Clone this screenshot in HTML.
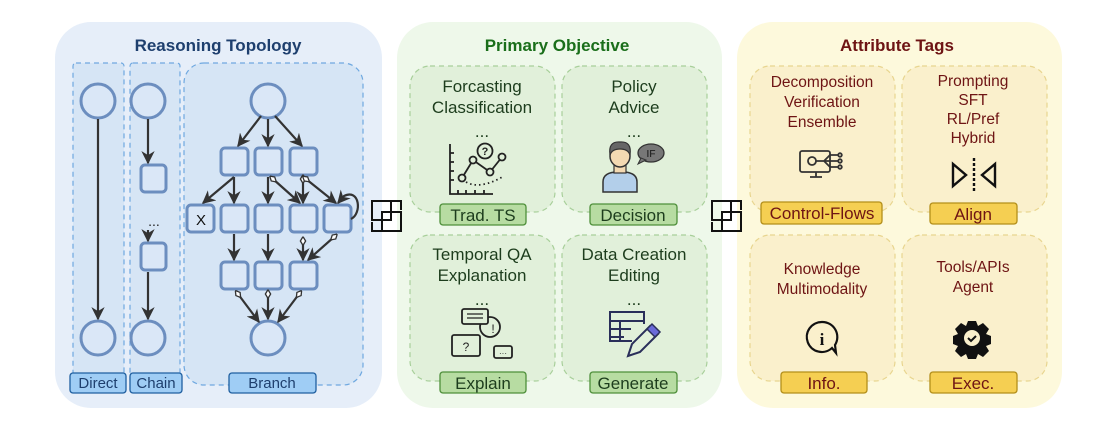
<!DOCTYPE html>
<html><head><meta charset="utf-8"><style>
html,body{margin:0;padding:0;background:#fff;}
svg{display:block;font-family:"Liberation Sans",sans-serif;}
</style></head><body>
<svg width="1117" height="431" viewBox="0 0 1117 431" xmlns="http://www.w3.org/2000/svg">
<defs>
<marker id="ah" viewBox="0 0 10 10" refX="9" refY="5" markerWidth="6" markerHeight="6" orient="auto"><path d="M0,0 L10,5 L0,10 L3,5 z" fill="#333"/></marker>
<marker id="dm" viewBox="0 0 10 10" refX="5" refY="5" markerWidth="4" markerHeight="4" orient="auto"><path d="M0,5 L5,2 L10,5 L5,8 z" fill="#fff" stroke="#333" stroke-width="1.5"/></marker>
</defs>
<rect x="55" y="22" width="327" height="386" rx="36" fill="#e6eef9"/>
<rect x="397" y="22" width="325" height="386" rx="36" fill="#eef8ea"/>
<rect x="737" y="22" width="325" height="386" rx="36" fill="#fdf9dc"/>
<text x="218" y="51" text-anchor="middle" font-size="17" font-weight="bold" fill="#1e3f6e">Reasoning Topology</text>
<text x="557" y="51" text-anchor="middle" font-size="17" font-weight="bold" fill="#1a6e1a">Primary Objective</text>
<text x="897" y="51" text-anchor="middle" font-size="17" font-weight="bold" fill="#6e1414">Attribute Tags</text>

<g fill="#d6e5f5" stroke="#6fa8e0" stroke-width="1.2" stroke-dasharray="5,4">
<rect x="73" y="63" width="51" height="320" rx="3"/>
<rect x="130" y="63" width="50" height="320" rx="3"/>
<rect x="184" y="63" width="179" height="322" rx="20"/>
</g>
<g fill="#dae7f7" stroke="#6c8ebf" stroke-width="3">
<circle cx="98" cy="101" r="17"/><circle cx="98" cy="338" r="17"/>
<circle cx="148" cy="101" r="17"/><circle cx="148" cy="338" r="17"/>
<rect x="141" y="165" width="25" height="27" rx="4"/>
<rect x="141" y="243" width="25" height="27" rx="4"/>
<circle cx="268" cy="101" r="17"/><circle cx="268" cy="338" r="17"/>
<rect x="221" y="148" width="27" height="27" rx="4"/>
<rect x="255" y="148" width="27" height="27" rx="4"/>
<rect x="290" y="148" width="27" height="27" rx="4"/>
<rect x="187" y="205" width="27" height="27" rx="4"/>
<rect x="221" y="205" width="27" height="27" rx="4"/>
<rect x="255" y="205" width="27" height="27" rx="4"/>
<rect x="290" y="205" width="27" height="27" rx="4"/>
<rect x="324" y="205" width="27" height="27" rx="4"/>
<rect x="221" y="262" width="27" height="27" rx="4"/>
<rect x="255" y="262" width="27" height="27" rx="4"/>
<rect x="290" y="262" width="27" height="27" rx="4"/>
</g>
<text x="201" y="225" text-anchor="middle" font-size="15" fill="#111">X</text>
<text x="154" y="226" text-anchor="middle" font-size="14" fill="#222">...</text>
<g stroke="#333" stroke-width="2.2" fill="none" marker-end="url(#ah)">
<line x1="98" y1="119" x2="98" y2="319"/>
<line x1="148" y1="119" x2="148" y2="163"/>
<line x1="148" y1="230" x2="148" y2="241"/>
<line x1="148" y1="272" x2="148" y2="319"/>
<line x1="261" y1="116" x2="238" y2="146"/>
<line x1="268" y1="119" x2="268" y2="146"/>
<line x1="275" y1="116" x2="302" y2="146"/>
<line x1="234" y1="177" x2="203" y2="203"/>
<line x1="234" y1="177" x2="234" y2="203"/>
<line x1="268" y1="177" x2="268" y2="203"/>
<line x1="234" y1="234" x2="234" y2="260"/>
<line x1="268" y1="234" x2="268" y2="260"/>
<path d="M351,219 C362,214 360,188 344,196 L338,203"/>
</g>
<g stroke="#333" stroke-width="2.2" fill="none" marker-end="url(#ah)" marker-start="url(#dm)">
<line x1="273" y1="179" x2="300" y2="203"/>
<line x1="303" y1="179" x2="303" y2="203"/>
<line x1="306" y1="179" x2="336" y2="203"/>
<line x1="303" y1="241" x2="303" y2="260"/>
<line x1="334" y1="237" x2="308" y2="260"/>
<line x1="238" y1="294" x2="259" y2="322"/>
<line x1="268" y1="294" x2="268" y2="319"/>
<line x1="299" y1="294" x2="278" y2="322"/>
</g>
<g fill="#9fcdf5" stroke="#1f5fa0" stroke-width="1.3">
<rect x="70" y="373" width="56" height="20" rx="3"/>
<rect x="130" y="373" width="52" height="20" rx="3"/>
<rect x="229" y="373" width="87" height="20" rx="3"/>
</g>
<g font-size="15" fill="#1e3f6e" text-anchor="middle">
<text x="98" y="388">Direct</text><text x="156" y="388">Chain</text><text x="272" y="388">Branch</text>
</g>

<g stroke="#111" stroke-width="2" fill="none">
<rect x="372" y="201" width="19" height="19"/><rect x="382" y="212" width="19" height="19"/>
<path d="M392,201 h9 v9 M372,222 v9 h9"/>
<rect x="712" y="201" width="19" height="19"/><rect x="722" y="212" width="19" height="19"/>
<path d="M732,201 h9 v9 M712,222 v9 h9"/>
</g>

<g fill="#e1f0da" stroke="#a8cf9a" stroke-width="1.2" stroke-dasharray="5,4">
<rect x="410" y="66" width="145" height="146" rx="20"/>
<rect x="562" y="66" width="145" height="146" rx="20"/>
<rect x="410" y="235" width="145" height="146" rx="20"/>
<rect x="562" y="235" width="145" height="146" rx="20"/>
</g>
<g font-size="17" fill="#1d3d1d" text-anchor="middle">
<text x="482" y="92">Forcasting</text><text x="482" y="113">Classification</text><text x="482" y="137">...</text>
<text x="634" y="92">Policy</text><text x="634" y="113">Advice</text><text x="634" y="137">...</text>
<text x="482" y="260">Temporal QA</text><text x="482" y="281">Explanation</text><text x="482" y="305">...</text>
<text x="634" y="260">Data Creation</text><text x="634" y="281">Editing</text><text x="634" y="305">...</text>
</g>
<g fill="#b7dca2" stroke="#4e8f3a" stroke-width="1.3">
<rect x="440" y="204" width="86" height="21" rx="3"/>
<rect x="590" y="204" width="87" height="21" rx="3"/>
<rect x="440" y="372" width="86" height="21" rx="3"/>
<rect x="590" y="372" width="87" height="21" rx="3"/>
</g>
<g font-size="17" fill="#1d3d1d" text-anchor="middle">
<text x="483" y="221">Trad. TS</text><text x="633" y="221">Decision</text>
<text x="483" y="389">Explain</text><text x="633" y="389">Generate</text>
</g>
<g stroke="#222" stroke-width="1.8" fill="none">
<path d="M450,144 v50 h43"/>
<path d="M450,153 h4 M450,162 h4 M450,171 h4 M450,180 h4 M458,194 v-4 M466,194 v-4 M475,194 v-4 M484,194 v-4"/>
<polyline points="462,178 473,160 490,172 502,157"/>
<circle cx="462" cy="178" r="3.5" fill="#e1f0da"/><circle cx="473" cy="160" r="3.5" fill="#e1f0da"/><circle cx="490" cy="172" r="3.5" fill="#e1f0da"/><circle cx="502" cy="157" r="3.5" fill="#e1f0da"/>
<path d="M466,182 Q480,190 504,176" stroke-dasharray="1.5,3"/>
<circle cx="485" cy="151" r="7.5"/>
</g>
<text x="485" y="155" text-anchor="middle" font-size="11" font-weight="bold" fill="#222">?</text>
<path d="M603,192 v-10 q0,-10 15,-10 h4 q15,0 15,10 v10 z" fill="#b3cfea" stroke="#333" stroke-width="1.5"/>
<rect x="614" y="163" width="12" height="10" fill="#f3d9b2" stroke="#333" stroke-width="1.2"/>
<ellipse cx="620" cy="156" rx="10" ry="11" fill="#f3d9b2" stroke="#333" stroke-width="1.5"/>
<path d="M610,155 q-2,-14 10,-13 q12,-1 10,13 q-2,-6 -10,-6 q-8,0 -10,6z" fill="#666" stroke="#333" stroke-width="1.2"/>
<ellipse cx="651" cy="153" rx="13" ry="9" fill="#777" stroke="#333" stroke-width="1.3"/>
<path d="M641,158 l-3,6 l8,-4z" fill="#777" stroke="#333" stroke-width="1"/>
<text x="651" y="157" text-anchor="middle" font-size="10" fill="#111">IF</text>
<g stroke="#222" stroke-width="1.8" fill="#e1f0da">
<circle cx="490" cy="327" r="10"/>
<rect x="462" y="309" width="26" height="15" rx="2"/>
<rect x="452" y="335" width="28" height="21" rx="2"/>
<rect x="494" y="346" width="18" height="12" rx="2"/>
</g>
<g font-size="12" fill="#222" text-anchor="middle"><text x="466" y="351">?</text><text x="493" y="333">!</text><text x="503" y="356" font-size="8">···</text></g>
<path d="M467,314 h16 M467,318 h16" stroke="#222" stroke-width="1.3"/>
<g stroke="#2a2f5a" stroke-width="2" fill="none">
<path d="M632,341 h-22 v-29 h34 v12 M610,321 h34 M610,329 h21 M610,337 h14 M620,321 v20"/>
</g>
<path d="M628,356 l4,-12 l18,-18 l8,8 l-18,18z" fill="#e1f0da" stroke="#2a2f5a" stroke-width="2"/>
<path d="M647,329 l5,-5 l8,8 l-5,5z" fill="#6a6ad8" stroke="#2a2f5a" stroke-width="1.5"/>

<g fill="#faf0cc" stroke="#e8d58f" stroke-width="1.2" stroke-dasharray="5,4">
<rect x="750" y="66" width="145" height="146" rx="20"/>
<rect x="902" y="66" width="145" height="146" rx="20"/>
<rect x="750" y="235" width="145" height="146" rx="20"/>
<rect x="902" y="235" width="145" height="146" rx="20"/>
</g>
<g font-size="15.5" fill="#6e1414" text-anchor="middle">
<text x="822" y="87">Decomposition</text><text x="822" y="107">Verification</text><text x="822" y="127">Ensemble</text>
<text x="973" y="86">Prompting</text><text x="973" y="105">SFT</text><text x="973" y="124">RL/Pref</text><text x="973" y="143">Hybrid</text>
<text x="822" y="274">Knowledge</text><text x="822" y="294">Multimodality</text>
<text x="973" y="272">Tools/APIs</text><text x="973" y="292">Agent</text>
</g>
<g fill="#f5cf52" stroke="#b38f1a" stroke-width="1.3">
<rect x="761" y="202" width="121" height="22" rx="3"/>
<rect x="930" y="203" width="87" height="21" rx="3"/>
<rect x="781" y="372" width="86" height="21" rx="3"/>
<rect x="930" y="372" width="87" height="21" rx="3"/>
</g>
<g font-size="17" fill="#6e1414" text-anchor="middle">
<text x="822" y="219">Control-Flows</text><text x="973" y="220">Align</text>
<text x="824" y="389">Info.</text><text x="973" y="389">Exec.</text>
</g>
<g stroke="#333" stroke-width="1.8" fill="none">
<rect x="800" y="151" width="30" height="21" rx="2"/>
<path d="M810,177 h12 M816,172 v5"/>
<circle cx="812" cy="161" r="4"/>
<path d="M816,161 h8 l6,-6 h8 M824,161 h14 M824,161 l6,6 h8"/>
<circle cx="840" cy="155" r="1.8"/><circle cx="840" cy="161" r="1.8"/><circle cx="840" cy="167" r="1.8"/>
</g>
<g stroke="#111" stroke-width="2.4" fill="none">
<path d="M953,164 v22 l13,-11z M995,164 v22 l-13,-11z"/>
<path d="M974,158 v34" stroke-dasharray="3,2"/>
</g>
<path d="M822,322 a15,15 0 1 0 10,26 l4,5 l-1,-8 a15,15 0 0 0 -13,-23z" fill="none" stroke="#111" stroke-width="2.2"/>
<text x="822" y="345" text-anchor="middle" font-size="17" font-weight="bold" fill="#111" font-family="Liberation Serif,serif">i</text>
<g transform="translate(972,338)">
<path d="M-4,-17 h8 l2,5 l5,-3 l6,6 l-3,5 l5,2 v8 l-5,2 l3,5 l-6,6 l-5,-3 l-2,5 h-8 l-2,-5 l-5,3 l-6,-6 l3,-5 l-5,-2 v-8 l5,-2 l-3,-5 l6,-6 l5,3z" fill="#111"/>
<circle r="8" fill="#faf0cc"/>
<path d="M-4,0 l3,3 l5,-5" stroke="#111" stroke-width="2" fill="none"/>
</g>
</svg>
</body></html>
